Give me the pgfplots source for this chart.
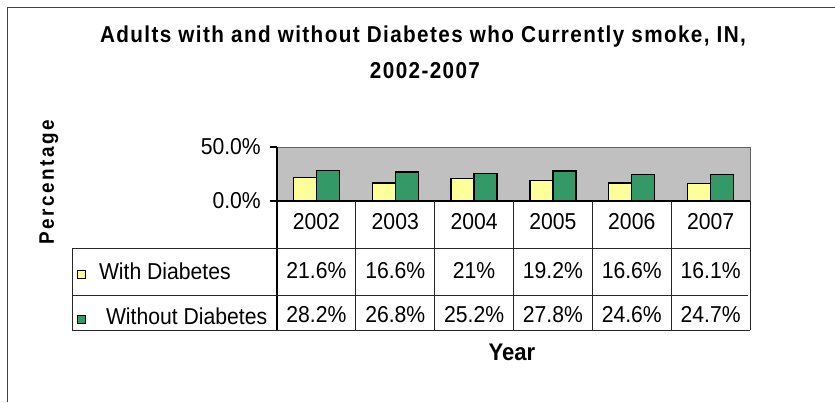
\documentclass[border=0pt]{standalone}
\usepackage{pgfplots}
\usepackage{pgfplotstable}
\pgfplotsset{compat=1.18}
\usepackage{fontspec}
\setmainfont[FakeStretch=0.92]{Liberation Sans}
\newfontfamily\titlefont[FakeStretch=0.9, LetterSpace=6]{Liberation Sans}
\newfontfamily\pctfont[FakeStretch=0.9, LetterSpace=12]{Liberation Sans}
\definecolor{plotgray}{HTML}{C0C0C0}
\definecolor{yellowc}{HTML}{FFFF99}
\definecolor{greenc}{HTML}{339966}
\definecolor{bordergray}{HTML}{404040}
\definecolor{gridc}{HTML}{262626}
\pgfplotstableread{
year with without
2002 21.6 28.2
2003 16.6 26.8
2004 21 25.2
2005 19.2 27.8
2006 16.6 24.6
2007 16.1 24.7
}\data
\begin{document}
\begin{tikzpicture}[x=1bp,y=1bp]
\path[use as bounding box] (0,0) rectangle (835,402);
% chart border
\draw[bordergray, line width=1.6bp] (7.5,0) -- (7.5,394.5) -- (835,394.5);
% title
\node[font=\titlefont\bfseries\fontsize{23bp}{27bp}\selectfont] at (423,365) {Adults with and without Diabetes who Currently smoke, IN,};
\node[font=\titlefont\bfseries\fontsize{23bp}{27bp}\selectfont] at (425,331) {2002-2007};
% y label
\node[rotate=90, font=\pctfont\bfseries\fontsize{21bp}{25bp}\selectfont] at (49,220) {Percentage};
% x label
\node[font=\bfseries\fontsize{24bp}{28bp}\selectfont] at (512,50) {Year};
\begin{axis}[
  at={(277bp,201bp)}, anchor=south west,
  scale only axis, width=473bp, height=54bp,
  xmin=-0.5, xmax=5.5, ymin=0, ymax=50,
  axis background/.style={fill=plotgray},
  axis line style={draw=gray!75!black, line width=0.8bp},
  ybar=0pt, bar width=23bp,
  xtick=\empty, ytick={0,50}, yticklabels={0.0\%,50.0\%},
  ytick pos=left, tick align=outside, major tick length=7bp,
  tick style={black, line width=1.2bp},
  yticklabel style={font=\fontsize{23bp}{27bp}\selectfont, inner sep=0pt, xshift=-9bp},
  clip=false,
  legend style={at={(axis description cs:-0.4228,-1.157)}, anchor=north west,
    draw=none, fill=none, inner sep=0pt, outer sep=0pt, row sep=28.5bp, column sep=13bp,
    font=\fontsize{23bp}{27bp}\selectfont,
    nodes={inner sep=0pt, text height=16.5bp, text depth=0pt}},
  legend cell align=left,
  legend image code/.code={\draw[#1, line width=1bp] (0bp,-7bp) rectangle (8bp,1bp);},
]
\addplot[fill=yellowc, draw=black, line width=1.3bp] table[x expr=\coordindex, y=with]{\data};
\addplot[fill=greenc, draw=black, line width=1.3bp] table[x expr=\coordindex, y=without]{\data};
\legend{With Diabetes, \hspace{7bp}Without Diabetes}
\end{axis}
% axis lines
\draw[black, line width=1.4bp] (270,201) -- (750,201);
\draw[black, line width=1.2bp] (277,255) -- (277,72);
% data table grid
\draw[gridc, line width=1bp] (72,154) -- (750,154);
\draw[gridc, line width=1bp] (72,107) -- (748,107);
\draw[gridc, line width=1bp] (72,72) -- (750,72);
\draw[gridc, line width=1bp] (72,154) -- (72,72);
\foreach \k in {1,...,6} {
  \draw[gridc, line width=1bp] ({277+78.833*\k},201) -- ({277+78.833*\k},72);
}
\foreach \k in {0,...,5} {
  \pgfplotstablegetelem{\k}{year}\of\data
  \node[font=\fontsize{23bp}{27bp}\selectfont] at ({277+78.833*\k+39.42},180.3) {\pgfplotsretval};
  \pgfplotstablegetelem{\k}{with}\of\data
  \node[font=\fontsize{23bp}{27bp}\selectfont] at ({277+78.833*\k+39.42},131.3) {\pgfplotsretval\%};
  \pgfplotstablegetelem{\k}{without}\of\data
  \node[font=\fontsize{23bp}{27bp}\selectfont] at ({277+78.833*\k+39.42},87) {\pgfplotsretval\%};
}
\end{tikzpicture}
\end{document}
